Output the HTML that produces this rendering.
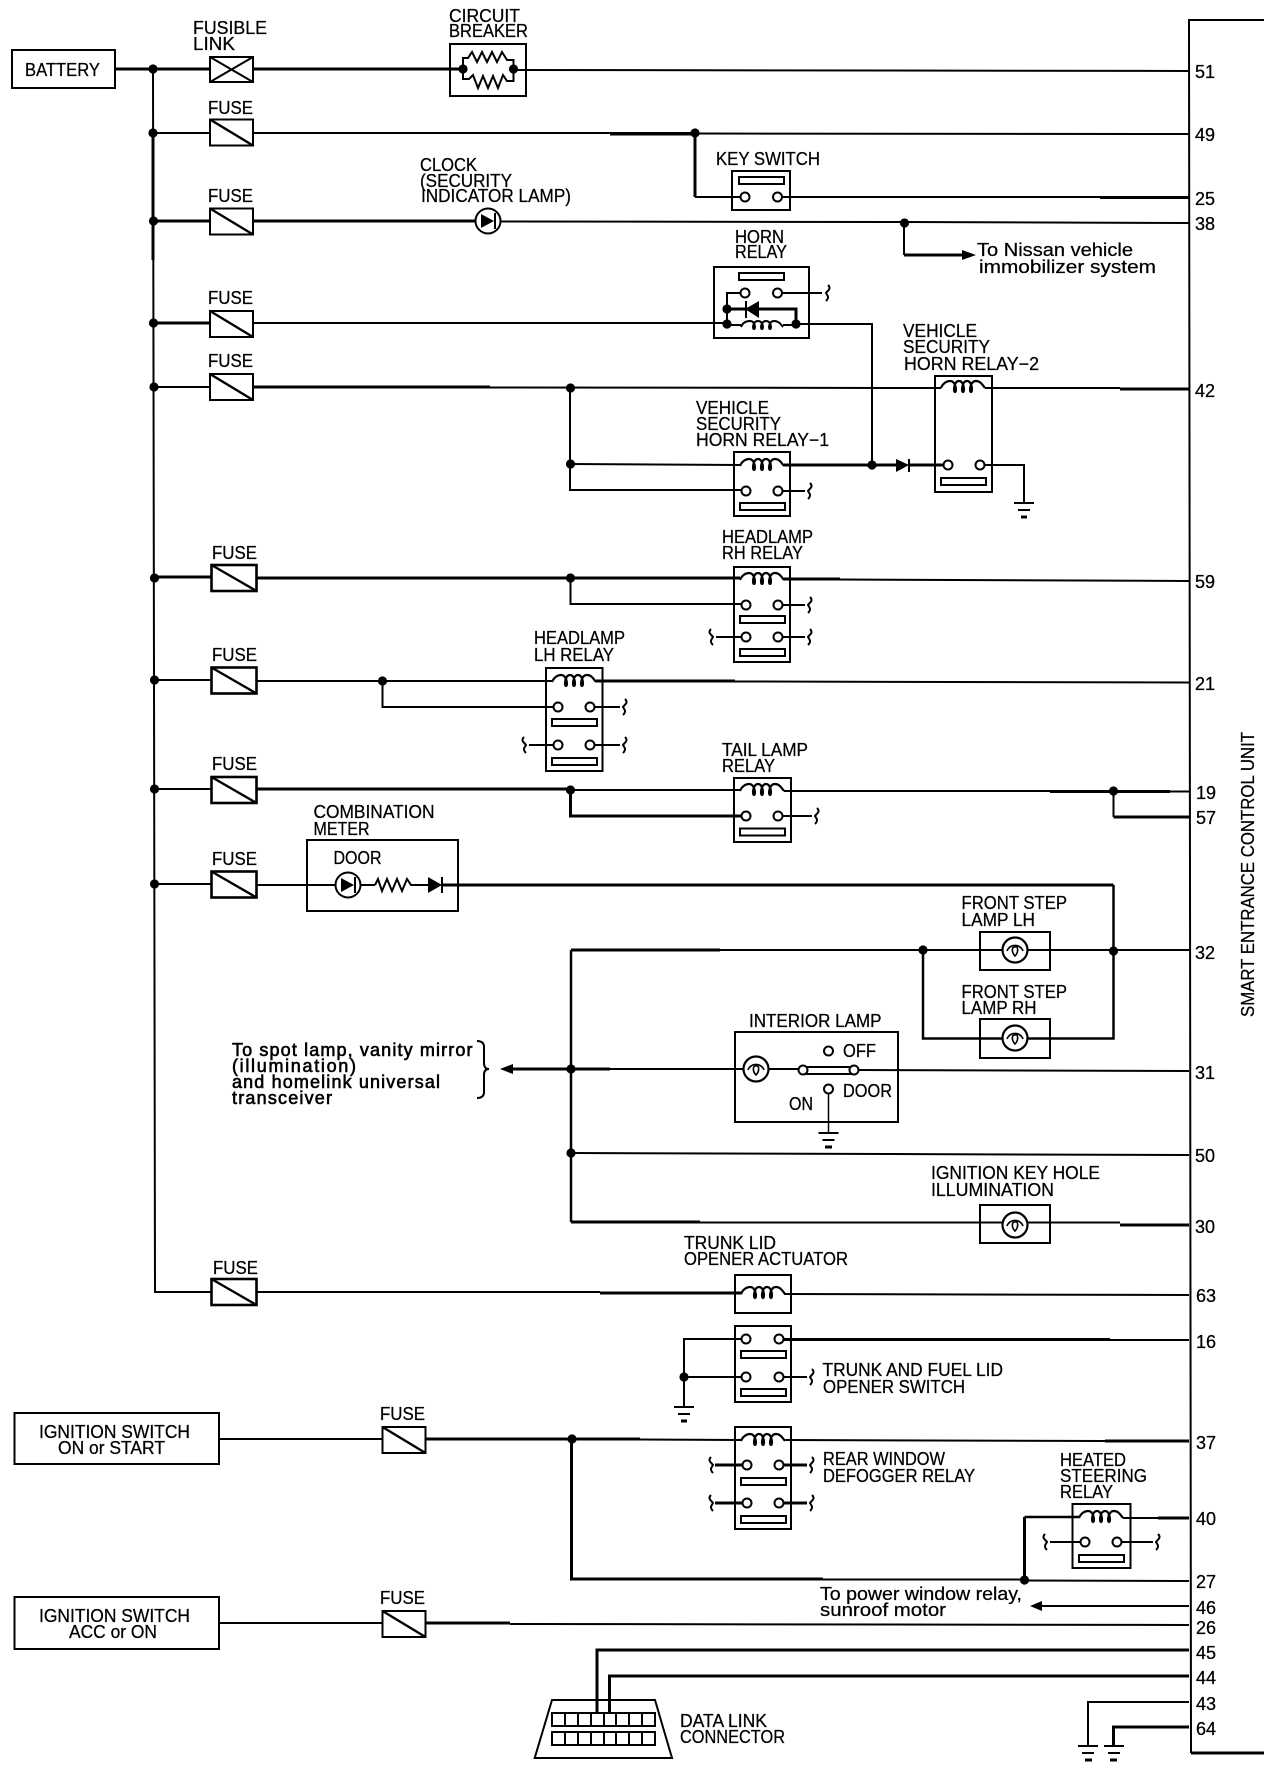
<!DOCTYPE html>
<html><head><meta charset="utf-8"><title>Smart Entrance Control Unit wiring diagram</title>
<style>
html,body{margin:0;padding:0;background:#fff}
svg{display:block}
text{font-family:"Liberation Sans",sans-serif;font-size:18px;fill:#000;stroke:#000;stroke-width:.25}
.b{stroke-width:.6}
.w{fill:none;stroke:#000;stroke-width:2}
.m{fill:none;stroke:#000;stroke-width:2.5}
.h{fill:none;stroke:#000;stroke-width:3}
</style></head><body>
<svg width="1280" height="1784" viewBox="0 0 1280 1784" xmlns="http://www.w3.org/2000/svg">
<defs>
<g id="f"><rect x="0" y="0" width="43" height="26" fill="#fff" stroke="#000" stroke-width="2"/><path d="M0 0L43 26" stroke="#000" stroke-width="2.4"/></g>
<g id="F"><rect x="0" y="0" width="45" height="26" fill="#fff" stroke="#000" stroke-width="2.6"/><path d="M0 0L45 26" stroke="#000" stroke-width="2.4"/></g>
<circle id="t" r="4.5" fill="#fff" stroke="#000" stroke-width="2"/>
<circle id="d" r="4.6" fill="#000"/>
<path id="c" fill="none" stroke="#000" stroke-width="2.2" d="M-22 1C-20-4-16-6-13-6C-7-6-6 5-8 5C-10 5-9-6-4-6C1-6 2 5 0 5C-2 5-1-6 4-6C9-6 10 5 8 5C6 5 7-6 13-6C17-6 19-3 22 1"/>
<g id="lamp" fill="none" stroke="#000"><circle r="12.5" fill="#fff" stroke-width="2.2"/><path d="M-8 1A8.500 8.500 0 0 1 8 1" stroke-width="1.6"/><path d="M0 6C-4 2-3-4 0-3C3-5 4 2 0 6Z" stroke-width="1.6"/></g>
<g id="ind"><circle r="12.5" fill="#fff" stroke="#000" stroke-width="2"/><path d="M-7-7L6 0L-7 7Z" fill="#000"/><path d="M7-8V8" stroke="#000" stroke-width="2"/></g>
<path id="sr" fill="none" stroke="#000" stroke-width="2" d="M2-8C6-4 1-2 0 0C1 2 4 4 0 8"/>
<path id="sl" fill="none" stroke="#000" stroke-width="2" d="M-2-8C-6-4-1-2 0 0C-1 2-4 4 0 8"/>
<path id="g" fill="none" stroke="#000" stroke-width="2" d="M-10 0H10M-6 7H6"/>
<rect id="br" width="45" height="7" fill="#fff" stroke="#000" stroke-width="2"/>
</defs>

<!-- right unit bar -->
<path class="w" d="M1264 20H1189L1191 1753"/>
<path class="h" d="M1191 1753H1264"/>

<!-- battery bus and feed wires -->
<rect x="12" y="50" width="103" height="38" fill="none" stroke="#000" stroke-width="2"/>
<path class="h" d="M115 69H210M253 69H463"/>
<path class="w" d="M153 69L155 1292H211"/>
<path class="h" d="M153 133V260"/>
<path class="w" d="M514 70L1189 71"/>
<path class="w" d="M153 133H210"/>
<path class="w" d="M253 133H695"/><path class="h" d="M610 134H695"/>
<path class="w" d="M695 133.500L1189 134"/>
<path class="h" d="M695 133V197"/><path class="w" d="M695 197H741"/>
<path class="w" d="M782 197H1100"/><path class="h" d="M1100 197.500H1189"/>
<path class="h" d="M153 221H210M253 221H476"/>
<path class="w" d="M500 221.500L904 222L1189 223"/>
<path class="w" d="M904 223V255"/><path class="h" d="M904 255H964"/>
<path d="M976 255L962 250V260Z" fill="#000"/>
<path class="h" d="M153 323H210"/>
<path class="w" d="M253 323H727"/>
<path class="w" d="M796 324H872V465"/>
<path class="w" d="M153 387H210"/><path class="h" d="M253 387H490"/>
<path class="w" d="M490 387.500L941 388M985 388H1120"/><path class="h" d="M1120 389H1189"/>
<path class="w" d="M570 388V490H741"/>
<path class="w" d="M570 464L740 465"/>
<path class="h" d="M784 465H896"/><path class="h" d="M909 465H944"/>
<path class="w" d="M985 465H1024V503"/>

<path class="h" d="M153 577H211"/>
<path class="h" d="M257 578H740"/>
<path class="h" d="M784 579H840"/><path class="w" d="M840 579.500L1189 581"/>
<path class="w" d="M570.500 578V604H741"/>

<path class="w" d="M155 680H211M257 681H552"/>
<path class="h" d="M596 681H735"/><path class="w" d="M735 681.500L1189 682.500"/>
<path class="w" d="M382.500 681V707H553"/>

<path class="w" d="M155 789H211"/><path class="h" d="M257 789H570"/>
<path class="w" d="M570 790H740"/>
<path class="h" d="M570.500 790V816H742"/>
<path class="w" d="M784 791H1050"/><path class="h" d="M1050 791.500H1170"/><path class="w" d="M1170 791.500H1189"/>
<path class="w" d="M1113.500 791V817"/><path class="h" d="M1113.500 817H1189"/>

<path class="w" d="M155 884H211M257 885H335M361 885H375M414 885H428"/>
<path class="h" d="M442 885H1113.500"/>
<path class="m" d="M1113.500 885V1038.500H923V950"/>
<path class="h" d="M571 950H720"/><path class="w" d="M720 950H1189"/>
<path class="m" d="M571 950V1222"/><path class="h" d="M571 1222H700"/><path class="w" d="M700 1222.500H1120"/><path class="h" d="M1120 1225H1189"/>
<path class="h" d="M513 1069H610"/><path class="w" d="M610 1069H803M858 1070L1189 1071"/>
<path d="M500 1069L513 1064V1074Z" fill="#000"/>
<path class="w" d="M571 1153L1189 1155"/>
<path class="w" d="M257 1292H600"/><path class="h" d="M600 1293H742"/>
<path class="w" d="M784 1294L1189 1295"/>

<!-- trunk switch -->
<path class="w" d="M684 1407V1339H742"/><path class="w" d="M684 1377H742"/>
<path class="h" d="M783 1339.500H1110"/><path class="w" d="M1110 1340H1189"/>
<use href="#g" x="684" y="1407"/><path d="M681 1421H687" stroke="#000" stroke-width="3"/>

<!-- ignition on/start -->
<path class="w" d="M219 1439H383"/>
<path class="h" d="M424 1439H640"/><path class="w" d="M640 1439.500L741 1440M785 1440L1105 1441"/><path class="h" d="M1105 1441H1189"/>
<path class="h" d="M571.500 1439V1579H823"/><path class="w" d="M823 1579.500H1024.500"/>
<path class="w" d="M1024.500 1580.500L1189 1581"/>
<path class="h" d="M1024.500 1580V1517"/><path class="m" d="M1024.500 1517H1079"/><path class="w" d="M1123 1518H1158"/><path class="h" d="M1158 1518H1189"/>
<path class="w" d="M1189 1606H1042"/>
<path d="M1030 1606L1042 1601V1611Z" fill="#000"/>

<!-- ignition acc -->
<path class="w" d="M219 1623H383"/><path class="h" d="M424 1623H510"/><path class="w" d="M510 1624L1189 1625"/>

<!-- data link -->
<path class="h" d="M597 1713V1650H1189"/>
<path class="h" d="M609.500 1713V1676H1189"/>
<path class="w" d="M1189 1702H1088V1746"/>
<path class="h" d="M1189 1727H1113.500V1746"/>

<!-- boxes -->
<g fill="none" stroke="#000" stroke-width="2">
<rect x="450" y="44" width="76" height="52"/>
<rect x="732" y="171" width="58" height="39"/>
<rect x="714" y="267" width="95" height="71"/>
<rect x="935" y="376" width="57" height="116"/>
<rect x="734" y="452" width="56" height="64"/>
<rect x="734" y="567" width="56" height="95"/>
<rect x="546" y="668" width="56.500" height="103"/>
<rect x="734" y="778" width="57" height="64"/>
<rect x="307" y="840" width="151" height="71"/>
<rect x="980" y="932" width="70" height="38"/>
<rect x="980" y="1019" width="70" height="39"/>
<rect x="735" y="1032" width="163" height="90"/>
<rect x="980" y="1205" width="70" height="38"/>
<rect x="735" y="1275" width="56" height="38"/>
<rect x="735" y="1326" width="56" height="76"/>
<rect x="735" y="1427" width="56" height="102"/>
<rect x="1072.500" y="1504" width="58" height="64"/>
<rect x="14.500" y="1413" width="204.500" height="51"/>
<rect x="14.500" y="1597" width="204.500" height="52"/>
<path d="M552 1700H655L672 1758H534.700Z"/>
</g>

<!-- fusible link & fuses -->
<g><rect x="210" y="57" width="43" height="25" fill="#fff" stroke="#000" stroke-width="2"/><path d="M210 57L253 82M253 57L210 82" stroke="#000" stroke-width="2"/></g>
<use href="#f" x="210" y="119.500"/>
<use href="#f" x="210" y="208.500"/>
<use href="#f" x="210" y="311"/>
<use href="#f" x="210" y="374"/>
<use href="#F" x="211.500" y="565"/>
<use href="#F" x="211.500" y="667.500"/>
<use href="#F" x="211.500" y="777"/>
<use href="#F" x="211.500" y="871.500"/>
<use href="#F" x="211.500" y="1279"/>
<use href="#f" x="382.500" y="1427"/>
<use href="#f" x="382.500" y="1611"/>

<!-- circuit breaker -->
<path class="w" d="M463 69V58H468L472 52L477 62L482 52L487 62L492 52L497 62L502 52L507 60H513.500V69"/>
<path class="w" d="M463 69V79H469L473 75L478 88L483 76L488 88L493 76L498 88L503 75L507 81H513.500V69"/>
<use href="#d" x="463" y="69"/><use href="#d" x="513.500" y="69"/>

<!-- lamps -->
<use href="#ind" x="488" y="221"/>
<use href="#ind" x="348" y="885"/>
<path class="w" d="M375 885L378 879L382 891L387 879L392 891L397 879L402 891L407 879L411 885H414"/>
<path d="M428 877L442 885L428 893Z" fill="#000"/><path d="M442 877V893" stroke="#000" stroke-width="2"/>
<use href="#lamp" x="1015" y="950"/>
<use href="#lamp" x="1015" y="1038"/>
<use href="#lamp" x="756" y="1069"/>
<use href="#lamp" x="1015" y="1225"/>

<!-- key switch -->
<use href="#br" x="739" y="177"/><use href="#t" x="745" y="197"/><use href="#t" x="777.500" y="197"/>

<!-- horn relay -->
<use href="#br" x="739" y="273"/>
<path class="w" d="M741 293H727V324M782 293H822"/>
<path class="h" d="M727 309H796V324"/>
<use href="#t" x="745" y="293"/><use href="#t" x="777.500" y="293"/>
<path d="M745 309L759 301V318Z" fill="#000"/><path d="M746 301V318" stroke="#000" stroke-width="2"/>
<use href="#d" x="727" y="309"/><use href="#d" x="727" y="324"/><use href="#d" x="796" y="324"/>
<g transform="translate(762 323)"><path class="w" d="M-21 4C-19-1-15-2-12-2C-7-2-6 6-8 6C-10 6-9-2-4-2C1-2 2 6 0 6C-2 6-1-2 4-2C9-2 10 6 8 6C6 6 7-2 12-2C16-2 18 0 21 4"/></g>
<path class="w" d="M727 325H741M783 325H796"/>
<use href="#sr" x="826" y="293"/>

<!-- junctions -->
<use href="#d" x="153" y="69"/><use href="#d" x="153" y="133"/><use href="#d" x="153.500" y="221"/><use href="#d" x="153.500" y="323"/><use href="#d" x="154" y="387"/>
<use href="#d" x="154.500" y="578"/><use href="#d" x="154.500" y="680"/><use href="#d" x="154.500" y="789"/><use href="#d" x="154.500" y="884"/>
<use href="#d" x="695" y="133"/><use href="#d" x="904.500" y="223"/><use href="#d" x="570.500" y="388"/><use href="#d" x="570.500" y="464"/><use href="#d" x="872" y="465"/>
<use href="#d" x="570.500" y="578"/><use href="#d" x="382.500" y="681"/><use href="#d" x="570.500" y="790"/><use href="#d" x="1113.500" y="791"/>
<use href="#d" x="923" y="950"/><use href="#d" x="1113.500" y="951"/><use href="#d" x="571" y="1069"/><use href="#d" x="571" y="1153"/>
<use href="#d" x="684" y="1377"/><use href="#d" x="572" y="1439"/><use href="#d" x="1024.500" y="1580"/>

<!-- relay 2 -->
<use href="#c" x="963" y="387"/>
<use href="#t" x="948" y="465"/><use href="#t" x="980" y="465"/><use href="#br" x="941" y="478"/>
<path d="M896 459L909 465L896 472Z" fill="#000"/><path d="M909 459V472" stroke="#000" stroke-width="2"/>
<use href="#g" x="1024" y="503"/><path d="M1021 517H1027" stroke="#000" stroke-width="3"/>

<!-- relay 1 -->
<use href="#c" x="762" y="465"/>
<use href="#t" x="746" y="491"/><use href="#t" x="778" y="491"/>
<path class="w" d="M782 491H805"/><use href="#sr" x="808" y="491"/>
<use href="#br" x="740" y="503"/>

<!-- headlamp RH -->
<use href="#c" x="762" y="579"/>
<use href="#t" x="746" y="605"/><use href="#t" x="778" y="605"/><use href="#br" x="740" y="616"/>
<use href="#t" x="746" y="637"/><use href="#t" x="778" y="637"/><use href="#br" x="740" y="649"/>
<path class="w" d="M782 605H805M782 637H805M716 637H742"/>
<use href="#sr" x="808" y="605"/><use href="#sr" x="808" y="637"/><use href="#sl" x="713" y="637"/>

<!-- headlamp LH -->
<use href="#c" x="574" y="681"/>
<use href="#t" x="558" y="707"/><use href="#t" x="590" y="707"/><use href="#br" x="552" y="719"/>
<use href="#t" x="558" y="745"/><use href="#t" x="590" y="745"/><use href="#br" x="552" y="758"/>
<path class="w" d="M594 707H620M594 745H620M529 745H554"/>
<use href="#sr" x="623" y="707"/><use href="#sr" x="623" y="745"/><use href="#sl" x="526" y="745"/>

<!-- tail lamp -->
<use href="#c" x="762" y="790"/>
<use href="#t" x="746" y="816"/><use href="#t" x="778" y="816"/><use href="#br" x="740" y="828.500"/>
<path class="w" d="M782 816H812"/><use href="#sr" x="815" y="816"/>

<!-- interior lamp -->
<rect x="806" y="1067" width="45" height="7" fill="#fff" stroke="#000" stroke-width="2"/>
<use href="#t" x="803" y="1070"/><use href="#t" x="854" y="1070"/>
<use href="#t" x="828.500" y="1051"/><use href="#t" x="828.500" y="1089"/>
<path d="M828.500 1094V1133" stroke="#000" stroke-width="1.500"/>
<use href="#g" x="828.500" y="1133"/><path d="M825 1147H832" stroke="#000" stroke-width="3"/>
<path class="w" d="M477 1041Q484 1041 484 1047V1063Q484 1069 489 1069Q484 1069 484 1075V1092Q484 1098 477 1098"/>

<!-- trunk actuator & switch -->
<use href="#c" x="763" y="1293"/>
<use href="#t" x="746" y="1339"/><use href="#t" x="779" y="1339"/><use href="#br" x="741" y="1351"/>
<use href="#t" x="746" y="1377"/><use href="#t" x="779" y="1377"/><use href="#br" x="741" y="1389"/>
<path class="w" d="M783 1377H807"/><use href="#sr" x="810" y="1377"/>

<!-- defogger -->
<use href="#c" x="763" y="1440"/>
<use href="#t" x="747" y="1465"/><use href="#t" x="779" y="1465"/><use href="#br" x="741" y="1478"/>
<use href="#t" x="747" y="1503"/><use href="#t" x="779" y="1503"/><use href="#br" x="741" y="1516"/>
<path class="h" d="M715 1465H742M783 1465H807M715 1503H742M783 1503H807"/>
<use href="#sr" x="810" y="1465"/><use href="#sr" x="810" y="1503"/><use href="#sl" x="713" y="1465"/><use href="#sl" x="713" y="1503"/>

<!-- heated steering -->
<use href="#c" x="1101" y="1517"/>
<use href="#t" x="1085" y="1542"/><use href="#t" x="1117" y="1542"/><use href="#br" x="1079" y="1555"/>
<path class="w" d="M1050 1542H1081M1121 1542H1153"/>
<use href="#sl" x="1047" y="1542"/><use href="#sr" x="1156" y="1542"/>

<!-- connector pins -->
<g fill="none" stroke="#000" stroke-width="2">
<rect x="552" y="1713" width="103" height="13"/><rect x="552" y="1732" width="103" height="13"/>
<path d="M565 1713V1726M578 1713V1726M591 1713V1726M604 1713V1726M616 1713V1726M629 1713V1726M642 1713V1726M565 1732V1745M578 1732V1745M591 1732V1745M604 1732V1745M616 1732V1745M629 1732V1745M642 1732V1745"/>
</g>

<!-- grounds -->
<use href="#g" x="1088" y="1746"/><path d="M1085 1760H1092" stroke="#000" stroke-width="3"/>
<use href="#g" x="1114" y="1746"/><path d="M1110 1760H1117" stroke="#000" stroke-width="3"/>

<!-- labels -->
<text x="25" y="76" textLength="75" lengthAdjust="spacingAndGlyphs">BATTERY</text>
<text x="193" y="34" textLength="74" lengthAdjust="spacingAndGlyphs">FUSIBLE</text>
<text x="193" y="50" textLength="42" lengthAdjust="spacingAndGlyphs">LINK</text>
<text x="449" y="22" textLength="71" lengthAdjust="spacingAndGlyphs">CIRCUIT</text>
<text x="449" y="37" textLength="79" lengthAdjust="spacingAndGlyphs">BREAKER</text>
<text x="208" y="114" textLength="45" lengthAdjust="spacingAndGlyphs">FUSE</text>
<text x="208" y="202" textLength="45" lengthAdjust="spacingAndGlyphs">FUSE</text>
<text x="208" y="304" textLength="45" lengthAdjust="spacingAndGlyphs">FUSE</text>
<text x="208" y="367" textLength="45" lengthAdjust="spacingAndGlyphs">FUSE</text>
<text x="212" y="559" textLength="45" lengthAdjust="spacingAndGlyphs">FUSE</text>
<text x="212" y="661" textLength="45" lengthAdjust="spacingAndGlyphs">FUSE</text>
<text x="212" y="770" textLength="45" lengthAdjust="spacingAndGlyphs">FUSE</text>
<text x="212" y="865" textLength="45" lengthAdjust="spacingAndGlyphs">FUSE</text>
<text x="213" y="1274" textLength="45" lengthAdjust="spacingAndGlyphs">FUSE</text>
<text x="380" y="1420" textLength="45" lengthAdjust="spacingAndGlyphs">FUSE</text>
<text x="380" y="1604" textLength="45" lengthAdjust="spacingAndGlyphs">FUSE</text>
<text x="420" y="171" textLength="57" lengthAdjust="spacingAndGlyphs">CLOCK</text>
<text x="420" y="187" textLength="92" lengthAdjust="spacingAndGlyphs">(SECURITY</text>
<text x="421" y="202" textLength="150" lengthAdjust="spacingAndGlyphs">INDICATOR LAMP)</text>
<text x="716" y="165" textLength="104" lengthAdjust="spacingAndGlyphs">KEY SWITCH</text>
<text x="977" y="256" textLength="156" lengthAdjust="spacingAndGlyphs">To Nissan vehicle</text>
<text x="979" y="273" textLength="177" lengthAdjust="spacingAndGlyphs">immobilizer system</text>
<text x="735" y="243" textLength="49" lengthAdjust="spacingAndGlyphs">HORN</text>
<text x="735" y="258" textLength="52" lengthAdjust="spacingAndGlyphs">RELAY</text>
<text x="903" y="337" textLength="74" lengthAdjust="spacingAndGlyphs">VEHICLE</text>
<text x="903" y="353" textLength="87" lengthAdjust="spacingAndGlyphs">SECURITY</text>
<text x="904" y="370" textLength="135" lengthAdjust="spacingAndGlyphs">HORN RELAY−2</text>
<text x="696" y="414" textLength="73" lengthAdjust="spacingAndGlyphs">VEHICLE</text>
<text x="696" y="430" textLength="85" lengthAdjust="spacingAndGlyphs">SECURITY</text>
<text x="696" y="446" textLength="133" lengthAdjust="spacingAndGlyphs">HORN RELAY−1</text>
<text x="722" y="543" textLength="91" lengthAdjust="spacingAndGlyphs">HEADLAMP</text>
<text x="722" y="559" textLength="81" lengthAdjust="spacingAndGlyphs">RH RELAY</text>
<text x="534" y="644" textLength="91" lengthAdjust="spacingAndGlyphs">HEADLAMP</text>
<text x="534" y="661" textLength="80" lengthAdjust="spacingAndGlyphs">LH RELAY</text>
<text x="722" y="756" textLength="86" lengthAdjust="spacingAndGlyphs">TAIL LAMP</text>
<text x="722" y="772" textLength="53" lengthAdjust="spacingAndGlyphs">RELAY</text>
<text x="313.500" y="818" textLength="121" lengthAdjust="spacingAndGlyphs">COMBINATION</text>
<text x="313.500" y="835" textLength="56" lengthAdjust="spacingAndGlyphs">METER</text>
<text x="333.500" y="864" textLength="48" lengthAdjust="spacingAndGlyphs">DOOR</text>
<text x="961.500" y="909" textLength="105.500" lengthAdjust="spacingAndGlyphs">FRONT STEP</text>
<text x="961.500" y="926" textLength="73.500" lengthAdjust="spacingAndGlyphs">LAMP LH</text>
<text x="961.500" y="998" textLength="105.500" lengthAdjust="spacingAndGlyphs">FRONT STEP</text>
<text x="961.500" y="1014" textLength="75" lengthAdjust="spacingAndGlyphs">LAMP RH</text>
<text x="749" y="1027" textLength="132.500" lengthAdjust="spacingAndGlyphs">INTERIOR LAMP</text>
<text x="843" y="1057" textLength="33" lengthAdjust="spacingAndGlyphs">OFF</text>
<text x="843" y="1097" textLength="49" lengthAdjust="spacingAndGlyphs">DOOR</text>
<text x="789" y="1110" textLength="24" lengthAdjust="spacingAndGlyphs">ON</text>
<text class="b" x="232" y="1056" textLength="240.500" lengthAdjust="spacing">To spot lamp, vanity mirror</text>
<text class="b" x="232" y="1072" textLength="124" lengthAdjust="spacing">(illumination)</text>
<text class="b" x="232" y="1088" textLength="208" lengthAdjust="spacing">and homelink universal</text>
<text class="b" x="232" y="1104" textLength="100" lengthAdjust="spacing">transceiver</text>
<text x="931" y="1179" textLength="169" lengthAdjust="spacingAndGlyphs">IGNITION KEY HOLE</text>
<text x="931" y="1196" textLength="123" lengthAdjust="spacingAndGlyphs">ILLUMINATION</text>
<text x="684" y="1249" textLength="92" lengthAdjust="spacingAndGlyphs">TRUNK LID</text>
<text x="684" y="1265" textLength="164" lengthAdjust="spacingAndGlyphs">OPENER ACTUATOR</text>
<text x="822.500" y="1376" textLength="180.500" lengthAdjust="spacingAndGlyphs">TRUNK AND FUEL LID</text>
<text x="823" y="1393" textLength="142" lengthAdjust="spacingAndGlyphs">OPENER SWITCH</text>
<text x="823" y="1465" textLength="122" lengthAdjust="spacingAndGlyphs">REAR WINDOW</text>
<text x="823" y="1482" textLength="152" lengthAdjust="spacingAndGlyphs">DEFOGGER RELAY</text>
<text x="1060" y="1466" textLength="66" lengthAdjust="spacingAndGlyphs">HEATED</text>
<text x="1060" y="1482" textLength="87" lengthAdjust="spacingAndGlyphs">STEERING</text>
<text x="1060" y="1498" textLength="53" lengthAdjust="spacingAndGlyphs">RELAY</text>
<text x="820" y="1600" textLength="202" lengthAdjust="spacingAndGlyphs">To power window relay,</text>
<text x="820" y="1616" textLength="126" lengthAdjust="spacingAndGlyphs">sunroof motor</text>
<text x="39" y="1438" textLength="151" lengthAdjust="spacingAndGlyphs">IGNITION SWITCH</text>
<text x="58" y="1454" textLength="107" lengthAdjust="spacingAndGlyphs">ON or START</text>
<text x="39" y="1622" textLength="151" lengthAdjust="spacingAndGlyphs">IGNITION SWITCH</text>
<text x="69" y="1638" textLength="88" lengthAdjust="spacingAndGlyphs">ACC or ON</text>
<text x="680" y="1727" textLength="87" lengthAdjust="spacingAndGlyphs">DATA LINK</text>
<text x="680" y="1743" textLength="105" lengthAdjust="spacingAndGlyphs">CONNECTOR</text>
<text transform="translate(1254 1017) rotate(-90)" textLength="285" lengthAdjust="spacingAndGlyphs">SMART ENTRANCE CONTROL UNIT</text>

<!-- pin numbers -->
<text x="1195" y="78">51</text>
<text x="1195" y="141">49</text>
<text x="1195" y="205">25</text>
<text x="1195" y="230">38</text>
<text x="1195" y="397">42</text>
<text x="1195" y="588">59</text>
<text x="1195" y="690">21</text>
<text x="1196" y="799">19</text>
<text x="1196" y="824">57</text>
<text x="1195" y="959">32</text>
<text x="1195" y="1079">31</text>
<text x="1195" y="1162">50</text>
<text x="1195" y="1233">30</text>
<text x="1196" y="1302">63</text>
<text x="1196" y="1348">16</text>
<text x="1196" y="1449">37</text>
<text x="1196" y="1525">40</text>
<text x="1196" y="1588">27</text>
<text x="1196" y="1614">46</text>
<text x="1196" y="1634">26</text>
<text x="1196" y="1659">45</text>
<text x="1196" y="1684">44</text>
<text x="1196" y="1710">43</text>
<text x="1196" y="1735">64</text>
</svg>
</body></html>
